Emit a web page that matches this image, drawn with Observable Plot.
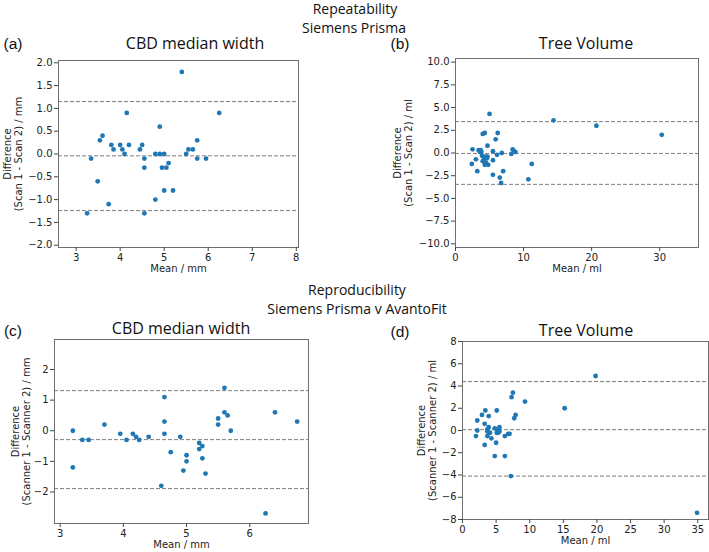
<!DOCTYPE html>
<html><head><meta charset="utf-8">
<script src="https://cdn.jsdelivr.net/npm/d3@7"></script>
<script src="https://cdn.jsdelivr.net/npm/@observablehq/plot@0.6"></script>
<style>
html,body{margin:0;padding:0;background:#fff;overflow:hidden;}
#fig{position:relative;width:709px;height:552px;background:#fff;}
.t{position:absolute;transform:translate(-50%,-50%);white-space:nowrap;font-family:"Open Sans",sans-serif;color:#111;line-height:1;}
.panel{position:absolute;}
</style></head><body><div id="fig"></div>
<script>
// ---------- data ----------
// (a) Repeatability, CBD median width
const aMean = [3.25,3.34,3.49,3.54,3.60,3.74,3.80,3.85,4.00,4.05,4.10,4.15,4.20,4.45,4.50,4.55,4.55,4.55,4.80,4.80,4.90,4.90,4.95,5.00,5.00,5.05,5.10,5.20,5.40,5.50,5.55,5.65,5.75,5.75,5.95,6.25];
const aDiff = [-1.3,-0.1,-0.6,0.3,0.4,-1.1,0.2,0.1,0.2,0.1,0.0,0.9,0.2,0.1,0.2,-0.1,-0.3,-1.3,-1.0,0.0,0.6,0.0,-0.3,0.0,-0.8,-0.3,-0.2,-0.8,1.8,0.0,0.1,0.1,0.3,-0.1,-0.1,0.9];
const aLines = [1.15,-0.04,-1.24];
// (b) Repeatability, Tree Volume
const bMean = [2.4,2.5,3.0,3.2,3.4,3.6,3.7,3.8,3.9,4.0,4.3,4.0,4.2,4.3,4.4,4.5,4.6,4.7,4.7,4.8,5.0,5.5,5.5,5.5,5.9,6.2,6.1,6.5,6.7,6.8,7.0,8.2,8.4,8.6,8.8,10.7,11.2,14.4,20.7,30.3];
const bDiff = [-1.2,0.4,-0.7,-2.0,0.3,0.1,0.3,0.1,-0.3,2.1,2.2,-0.9,-0.7,-1.3,-0.4,-1.1,-0.6,0.8,-0.4,-1.3,4.3,0.2,-0.8,-2.4,1.5,2.2,-0.2,-2.7,-3.3,0.0,-2.0,-0.1,0.4,0.2,0.1,-2.9,-1.2,3.6,3.0,2.0];
const bLines = [3.45,-0.05,-3.45];
// (c) Reproducibility, CBD median width
const cMean = [3.2,3.2,3.35,3.45,3.7,3.95,4.05,4.15,4.2,4.25,4.4,4.6,4.65,4.65,4.65,4.75,4.9,4.95,5.0,5.0,5.2,5.2,5.25,5.25,5.3,5.5,5.5,5.6,5.6,5.65,5.7,6.25,6.4,6.75];
const cDiff = [0.0,-1.2,-0.3,-0.3,0.2,-0.1,-0.3,-0.1,-0.2,-0.3,-0.2,-1.8,1.1,0.3,-0.1,-0.7,-0.2,-1.3,-0.8,-1.0,-0.4,-0.6,-0.5,-0.9,-1.4,0.4,0.2,1.4,0.6,0.5,0.0,-2.7,0.6,0.3];
const cLines = [1.31,-0.29,-1.89];
// (d) Reproducibility, Tree Volume
const dMean = [2.0,2.2,2.2,2.9,3.3,3.3,3.4,3.7,3.7,3.7,3.9,3.9,4.1,4.3,4.8,4.8,5.0,5.1,5.1,5.2,5.3,5.4,5.5,5.5,6.3,6.3,6.8,7.0,7.2,7.3,7.5,7.7,7.9,9.3,15.2,19.8,34.9];
const dDiff = [-0.5,0.0,0.9,1.4,0.6,-1.3,1.8,0.1,-0.1,-0.5,1.3,0.3,-0.2,-0.7,0.2,-2.3,-1.1,1.8,-0.2,0.1,-0.2,0.1,0.3,-0.1,-0.5,-2.3,-0.3,-0.3,-4.1,3.0,3.4,1.1,1.4,2.6,2.0,4.9,-7.4];
const dLines = [4.4,0.08,-4.1];

// tick values
const aXTicks = [3,4,5,6,7,8];
const aYTicks = [-2,-1.5,-1,-0.5,0,0.5,1,1.5,2];
const bXTicks = [0,10,20,30];
const bYTicks = [-10,-7.5,-5,-2.5,0,2.5,5,7.5,10];
const cXTicks = [3,4,5,6];
const cYTicks = [-2,-1,0,1,2];
const dXTicks = [0,5,10,15,20,25,30,35];
const dYTicks = [-8,-6,-4,-2,0,2,4,6,8];

// ---------- layout ----------
const fig = document.getElementById("fig");
const BLUE = "#1f77b4";
const FONT = "'DejaVu Sans', sans-serif";

function panel(cfg) {
  const {box, frame, xDomain, yDomain, xTicks, yTicks, xFmt, yFmt, mean, diff, lines, xLabel, yLabel, yLabelDx} = cfg;
  const data = mean.map((m, i) => ({m, d: diff[i]}));
  const svg = Plot.plot({
    width: box.w, height: box.h,
    marginLeft: frame.l - box.x, marginRight: box.x + box.w - frame.r,
    marginTop: frame.t - box.y, marginBottom: box.y + box.h - frame.b,
    style: {fontFamily: FONT, fontSize: "10px", color: "#222", background: "transparent", overflow: "visible"},
    x: {domain: xDomain, label: null},
    y: {domain: yDomain, label: null},
    marks: [
      Plot.ruleY(lines, {stroke: "#808080", strokeWidth: 1, strokeDasharray: "4,2"}),
      Plot.dot(data, {x: "m", y: "d", r: 2.4, fill: BLUE, stroke: "none"}),
      Plot.frame({stroke: "#6e6e6e", strokeWidth: 1}),
      Plot.axisX({ticks: xTicks, tickFormat: xFmt, tickSize: 4, tickPadding: 2, label: null, stroke: "#444", fill: "#222"}),
      Plot.axisY({ticks: yTicks, tickFormat: yFmt, tickSize: 4, tickPadding: 2, label: null, stroke: "#444", fill: "#222"}),
      Plot.text([xLabel], {text: d => d, frameAnchor: "bottom", textAnchor: "middle", dy: 24, fontSize: 10, fill: "#222"}),
      Plot.text([yLabel], {text: d => d, frameAnchor: "left", textAnchor: "middle", rotate: -90, dx: yLabelDx, fontSize: 10, lineHeight: 1.1, fill: "#222", lineAnchor: "middle"})
    ]
  });
  svg.classList.add("panel");
  svg.style.left = box.x + "px";
  svg.style.top = box.y + "px";
  fig.appendChild(svg);
}

function label(txt, x, y, size, extra) {
  const d = document.createElement("div");
  d.className = "t";
  d.textContent = txt;
  d.style.left = x + "px";
  d.style.top = y + "px";
  d.style.fontSize = size + "px";
  if (extra) Object.assign(d.style, extra);
  fig.appendChild(d);
}

const f1 = d3.format(".1f");
const f0 = d3.format("d");

panel({box: {x: 0, y: 30, w: 352, h: 255}, frame: {l: 58, r: 298, t: 60, b: 247},
  xDomain: [2.6, 8.05], yDomain: [-2.05, 2.05], xTicks: aXTicks, yTicks: aYTicks, xFmt: f0, yFmt: f1,
  mean: aMean, diff: aDiff, lines: aLines, xLabel: "Mean / mm",
  yLabel: "Difference\n(Scan 1 - Scan 2) / mm", yLabelDx: -46});
panel({box: {x: 352, y: 30, w: 357, h: 255}, frame: {l: 455, r: 698, t: 58, b: 247},
  xDomain: [0, 35.7], yDomain: [-10.4, 10.4], xTicks: bXTicks, yTicks: bYTicks, xFmt: f0, yFmt: f1,
  mean: bMean, diff: bDiff, lines: bLines, xLabel: "Mean / ml",
  yLabel: "Difference\n(Scan 1 - Scan 2) / ml", yLabelDx: -53});
panel({box: {x: 0, y: 285, w: 352, h: 267}, frame: {l: 54, r: 308, t: 339, b: 523},
  xDomain: [2.91, 6.93], yDomain: [-3.03, 2.98], xTicks: cXTicks, yTicks: cYTicks, xFmt: f0, yFmt: f0,
  mean: cMean, diff: cDiff, lines: cLines, xLabel: "Mean / mm",
  yLabel: "Difference\n(Scanner 1 - Scanner 2) / mm", yLabelDx: -34});
panel({box: {x: 352, y: 285, w: 357, h: 267}, frame: {l: 462, r: 708, t: 341, b: 519},
  xDomain: [0, 36.6], yDomain: [-8, 8], xTicks: dXTicks, yTicks: dYTicks, xFmt: f0, yFmt: f0,
  mean: dMean, diff: dDiff, lines: dLines, xLabel: "Mean / ml",
  yLabel: "Difference\n(Scanner 1 - Scanner 2) / ml", yLabelDx: -36});

// titles
label("Repeatability", 355, 9, 14);
label("Siemens Prisma", 354, 28, 14);
label("Reproducibility", 357, 290, 14);
label("Siemens Prisma v AvantoFit", 357, 309, 14);
label("CBD median width", 195, 43, 16);
label("Tree Volume", 586, 43, 16);
label("CBD median width", 181, 328, 16);
label("Tree Volume", 586, 330, 16);
label("(a)", 13, 44, 15.5, {fontFamily: "'Liberation Sans', sans-serif"});
label("(b)", 400, 44, 15.5, {fontFamily: "'Liberation Sans', sans-serif"});
label("(c)", 13, 331, 15.5, {fontFamily: "'Liberation Sans', sans-serif"});
label("(d)", 400, 332, 15.5, {fontFamily: "'Liberation Sans', sans-serif"});
</script></body></html>
